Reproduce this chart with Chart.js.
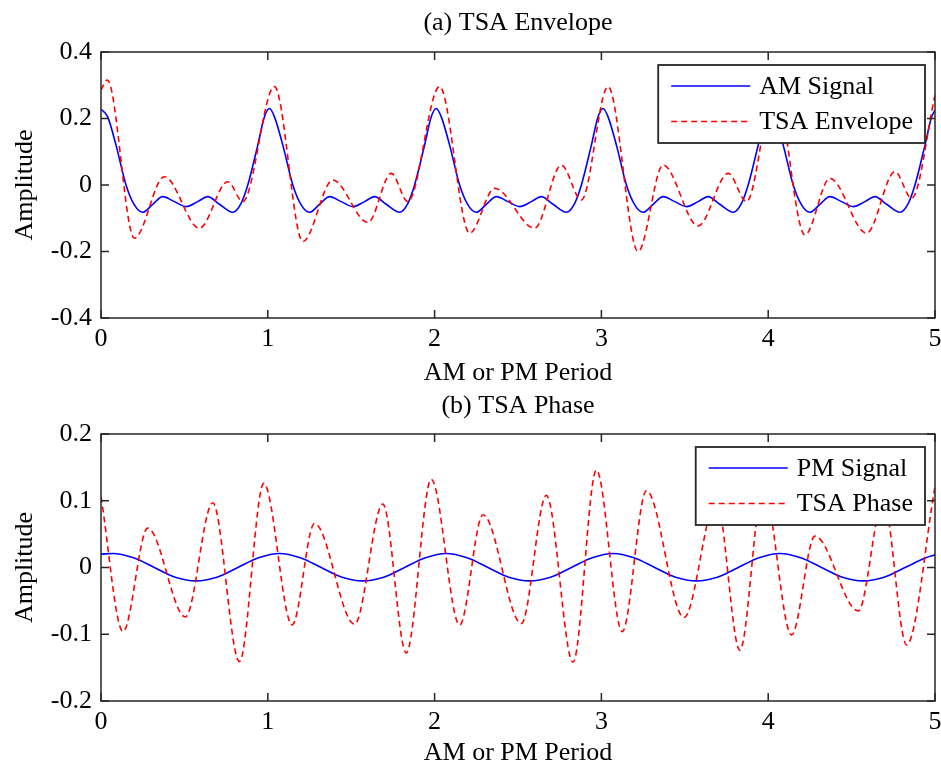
<!DOCTYPE html>
<html>
<head>
<meta charset="utf-8">
<script src="https://cdn.jsdelivr.net/npm/chart.js@4/dist/chart.umd.min.js"></script>
<style>
  html, body { margin: 0; padding: 0; background: #fff; }
  #wrap { position: relative; width: 941px; height: 769px; }
  .box { position: absolute; left: 0; width: 941px; }
  #topBox { top: 0; height: 400px; }
  #botBox { top: 380px; height: 389px; }
</style>
</head>
<body>
<div id="wrap">
  <div class="box" id="topBox"><canvas id="envChart"></canvas></div>
  <div class="box" id="botBox"><canvas id="phaseChart"></canvas></div>
</div>
<script>
// axis ticks
const xTicks = [0, 1, 2, 3, 4, 5];
const envYTicks = [-0.4, -0.2, 0, 0.2, 0.4];
const envYLabels = ["-0.4", "-0.2", "0", "0.2", "0.4"];
const phYTicks = [-0.2, -0.1, 0, 0.1, 0.2];
const phYLabels = ["-0.2", "-0.1", "0", "0.1", "0.2"];

// (a) AM signal
const amX = [
  0, 0.04, 0.09, 0.15, 0.2, 0.25, 0.31, 0.37, 0.44, 0.51, 0.58, 0.64, 0.71, 0.79, 0.84, 0.88, 0.94, 0.98,
  1.01, 1.04, 1.09, 1.15, 1.2, 1.25, 1.31, 1.37, 1.44, 1.51, 1.58, 1.64, 1.71, 1.79, 1.84, 1.88, 1.94, 1.98,
  2.01, 2.04, 2.09, 2.15, 2.2, 2.25, 2.31, 2.37, 2.44, 2.51, 2.58, 2.64, 2.71, 2.79, 2.84, 2.88, 2.94, 2.98,
  3.01, 3.04, 3.09, 3.15, 3.2, 3.25, 3.31, 3.37, 3.44, 3.51, 3.58, 3.64, 3.71, 3.79, 3.84, 3.88, 3.94, 3.98,
  4.01, 4.04, 4.09, 4.15, 4.2, 4.25, 4.31, 4.37, 4.44, 4.51, 4.58, 4.64, 4.71, 4.79, 4.84, 4.88, 4.94, 4.98,
  5.0
];
const amY = [
  0.228, 0.205, 0.12, 0, -0.06, -0.082, -0.058, -0.035, -0.05, -0.065, -0.05, -0.035, -0.058, -0.082, -0.055, 0, 0.12, 0.205,
  0.23, 0.205, 0.12, 0, -0.06, -0.082, -0.058, -0.035, -0.05, -0.065, -0.05, -0.035, -0.058, -0.082, -0.055, 0, 0.12, 0.205,
  0.23, 0.205, 0.12, 0, -0.06, -0.082, -0.058, -0.035, -0.05, -0.065, -0.05, -0.035, -0.058, -0.082, -0.055, 0, 0.12, 0.205,
  0.23, 0.205, 0.12, 0, -0.06, -0.082, -0.058, -0.035, -0.05, -0.065, -0.05, -0.035, -0.058, -0.082, -0.055, 0, 0.12, 0.205,
  0.23, 0.205, 0.12, 0, -0.06, -0.082, -0.058, -0.035, -0.05, -0.065, -0.05, -0.035, -0.058, -0.082, -0.055, 0, 0.12, 0.205,
  0.225
];

// (a) TSA envelope
const envX = [0, 0.038, 0.2, 0.38, 0.59, 0.76, 0.85, 1.04, 1.21, 1.39, 1.6, 1.74, 1.84, 2.03, 2.21, 2.36, 2.6, 2.76, 2.88,
  3.04, 3.22, 3.37, 3.58, 3.76, 3.87, 4.04, 4.22, 4.37, 4.59, 4.76, 4.86, 5.0];
const envY = [0.286, 0.316, -0.16, 0.025, -0.13, 0.01, -0.05, 0.296, -0.17, 0.015, -0.113, 0.035, -0.05, 0.296, -0.145, -0.01, -0.13, 0.06, -0.045,
  0.296, -0.2, 0.06, -0.123, 0.035, -0.05, 0.29, -0.15, 0.02, -0.145, 0.04, -0.04, 0.27];

// (b) PM signal
const pmX = [
  0, 0.07, 0.195, 0.32, 0.445, 0.57, 0.695, 0.82, 0.945,
  1.07, 1.195, 1.32, 1.445, 1.57, 1.695, 1.82, 1.945,
  2.07, 2.195, 2.32, 2.445, 2.57, 2.695, 2.82, 2.945,
  3.07, 3.195, 3.32, 3.445, 3.57, 3.695, 3.82, 3.945,
  4.07, 4.195, 4.32, 4.445, 4.57, 4.695, 4.82, 4.945,
  5.0
];
const pmY = [
  0.02, 0.021, 0.0145, 0, -0.0145, -0.02, -0.0145, 0, 0.0145,
  0.021, 0.0145, 0, -0.0145, -0.02, -0.0145, 0, 0.0145,
  0.021, 0.0145, 0, -0.0145, -0.02, -0.0145, 0, 0.0145,
  0.021, 0.0145, 0, -0.0145, -0.02, -0.0145, 0, 0.0145,
  0.021, 0.0145, 0, -0.0145, -0.02, -0.0145, 0, 0.0145,
  0.019
];

// (b) TSA phase
const phX = [0, 0.132, 0.28, 0.506, 0.67, 0.83, 0.976, 1.146, 1.28, 1.52, 1.69, 1.83, 1.98, 2.15, 2.29, 2.52, 2.67, 2.83, 2.97,
  3.125, 3.27, 3.495, 3.69, 3.83, 3.97, 4.14, 4.28, 4.54, 4.69, 4.83, 5.0];
const phY = [0.106, -0.096, 0.059, -0.074, 0.097, -0.141, 0.126, -0.086, 0.066, -0.085, 0.095, -0.128, 0.132, -0.086, 0.079, -0.084, 0.108, -0.142, 0.146,
  -0.096, 0.115, -0.075, 0.1, -0.124, 0.12, -0.101, 0.047, -0.065, 0.1, -0.116, 0.121];

const FONT = '"Liberation Serif", "Times New Roman", serif';
const FRAME = "#262626";
Chart.defaults.font.family = FONT;
Chart.defaults.font.size = 26;
Chart.defaults.color = "#000";

const pts = (xs, ys) => xs.map((x, i) => ({ x: x, y: ys[i] }));

// frame with inward ticks + legend box drawn over the lines (matlab look)
const boxPlugin = {
  id: "matlabBox",
  afterDatasetsDraw(chart, args, opts) {
    const { ctx, chartArea: a } = chart;
    const xs = chart.scales.x, ys = chart.scales.y;
    ctx.save();
    ctx.strokeStyle = FRAME;
    ctx.lineWidth = 1.5;
    ctx.strokeRect(a.left, a.top, a.right - a.left, a.bottom - a.top);
    ctx.beginPath();
    xs.ticks.forEach((t) => {
      const px = xs.getPixelForValue(t.value);
      ctx.moveTo(px, a.bottom); ctx.lineTo(px, a.bottom - 8);
      ctx.moveTo(px, a.top); ctx.lineTo(px, a.top + 8);
    });
    ys.ticks.forEach((t) => {
      const py = ys.getPixelForValue(t.value);
      ctx.moveTo(a.left, py); ctx.lineTo(a.left + 8, py);
      ctx.moveTo(a.right, py); ctx.lineTo(a.right - 8, py);
    });
    ctx.stroke();

    // title, centred over the axes box
    ctx.font = "26px " + FONT;
    ctx.fillStyle = "#000";
    ctx.textAlign = "center";
    ctx.textBaseline = "middle";
    ctx.fillText(opts.text, (a.left + a.right) / 2, a.top - opts.gap);

    // legend
    const sets = chart.data.datasets;
    const textW = Math.max(...sets.map((d) => ctx.measureText(d.label).width));
    const w = 13 + 79 + 9 + textW + 12;
    const h = 78;
    const x0 = a.right - 10 - w;
    const y0 = a.top + 13;
    ctx.fillStyle = "#fff";
    ctx.fillRect(x0, y0, w, h);
    ctx.strokeStyle = FRAME;
    ctx.lineWidth = 1.8;
    ctx.strokeRect(x0, y0, w, h);
    sets.forEach((d, i) => {
      const cy = y0 + 21 + i * 35.5;
      ctx.beginPath();
      ctx.setLineDash(d.borderDash || []);
      ctx.strokeStyle = d.borderColor;
      ctx.lineWidth = d.borderWidth;
      ctx.moveTo(x0 + 13, cy);
      ctx.lineTo(x0 + 92, cy);
      ctx.stroke();
      ctx.setLineDash([]);
      ctx.fillStyle = "#000";
      ctx.textBaseline = "middle";
      ctx.textAlign = "left";
      ctx.fillText(d.label, x0 + 101, cy + 1);
    });
    ctx.restore();
  },
};

function makeChart(id, o) {
  const ctx = document.getElementById(id).getContext("2d");
  return new Chart(ctx, {
    type: "line",
    data: {
      datasets: [
        {
          label: o.labels[0],
          data: pts(o.sigX, o.sigY),
          borderColor: "#0000ff",
          borderWidth: 1.6,
          pointRadius: 0,
          cubicInterpolationMode: "monotone",
          order: 1,
        },
        {
          label: o.labels[1],
          data: pts(o.tsaX, o.tsaY),
          borderColor: "#ff0000",
          borderWidth: 1.6,
          borderDash: [6, 4],
          pointRadius: 0,
          cubicInterpolationMode: "monotone",
          order: 0,
        },
      ],
    },
    options: {
      responsive: true,
      maintainAspectRatio: false,
      animation: false,
      layout: { padding: { left: 0, right: 6, top: o.top, bottom: 0 } },
      plugins: {
        legend: { display: false },
        tooltip: { enabled: false },
        title: { display: false },
        matlabBox: { text: o.title, gap: o.titleGap },
      },
      scales: {
        x: {
          type: "linear",
          min: 0,
          max: 5,
          afterBuildTicks: (s) => { s.ticks = xTicks.map((v) => ({ value: v })); },
          afterFit: (s) => { s.height = o.xHeight; s.paddingLeft = 0; s.paddingRight = 0; },
          grid: { display: false, drawTicks: false },
          border: { display: false },
          ticks: { padding: 6, maxRotation: 0, autoSkip: false, callback: (v) => String(v) },
          title: { display: true, text: "AM or PM Period", padding: { top: 0, bottom: o.xTitlePad } },
        },
        y: {
          min: o.yTicks[0],
          max: o.yTicks[o.yTicks.length - 1],
          afterBuildTicks: (s) => { s.ticks = o.yTicks.map((v) => ({ value: v })); },
          afterFit: (s) => { s.width = 101; s.paddingTop = 0; s.paddingBottom = 0; },
          grid: { display: false, drawTicks: false },
          border: { display: false },
          ticks: { padding: 9, callback: (v) => o.yLabels[o.yTicks.indexOf(v)] },
          title: { display: true, text: "Amplitude", padding: { top: 9.4, bottom: 0 } },
        },
      },
    },
    plugins: [boxPlugin],
  });
}

makeChart("envChart", {
  title: "(a) TSA Envelope",
  labels: ["AM Signal", "TSA Envelope"],
  sigX: amX, sigY: amY, tsaX: envX, tsaY: envY,
  yTicks: envYTicks, yLabels: envYLabels,
  top: 52, titleGap: 29,
  xHeight: 82, xTitlePad: 11.4,
});

makeChart("phaseChart", {
  title: "(b) TSA Phase",
  labels: ["PM Signal", "TSA Phase"],
  sigX: pmX, sigY: pmY, tsaX: phX, tsaY: phY,
  yTicks: phYTicks, yLabels: phYLabels,
  top: 54, titleGap: 28,
  xHeight: 68, xTitlePad: 0,
});
</script>
</body>
</html>
